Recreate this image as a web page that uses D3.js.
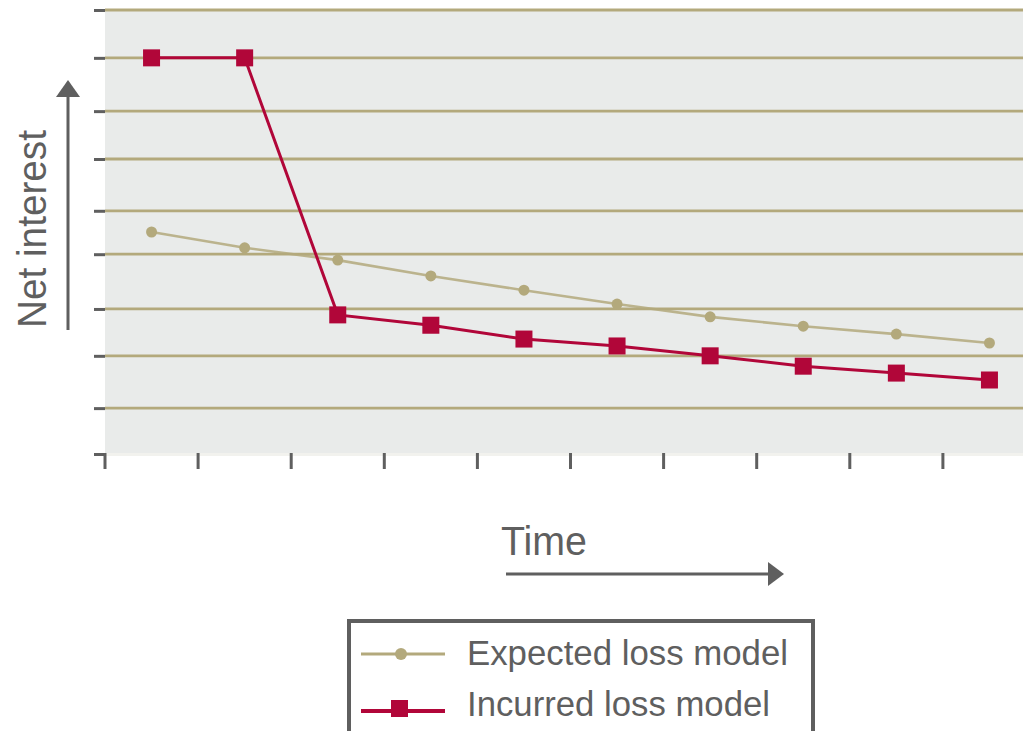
<!DOCTYPE html>
<html>
<head>
<meta charset="utf-8">
<script src="https://cdn.jsdelivr.net/npm/d3@7"></script>
<style>
  html, body { margin: 0; padding: 0; background: #ffffff; }
  svg { display: block; }
  text { font-family: "Liberation Sans", Arial, sans-serif; fill: #5f5f5f; }
</style>
</head>
<body>
<svg id="chart" width="1023" height="731"></svg>
<script>
// ---- data ----
const periods = ["1", "2", "3", "4", "5", "6", "7", "8", "9", "10"];
const expectedLoss = [4.50, 4.18, 3.93, 3.61, 3.32, 3.04, 2.78, 2.59, 2.43, 2.25];
const incurredLoss = [8.03, 8.03, 2.82, 2.61, 2.33, 2.19, 1.99, 1.78, 1.64, 1.50];
const gridValues = [0.93, 1.99, 2.94, 4.05, 4.93, 5.98, 6.95, 8.03, 9];
const yTickValues = [0, 0.93, 1.99, 2.94, 4.05, 4.93, 5.98, 6.95, 8.03, 9];
const seriesNames = ["Expected loss model", "Incurred loss model"];
const yTitle = "Net interest";
const xTitle = "Time";

// ---- layout ----
const svg = d3.select("#chart");
const plot = { left: 105, right: 1023, top: 10, bottom: 454 };
const colTan = "#b3a97c";
const colRed = "#b10639";
const colGrey = "#5f5f5f";

const x = d3.scaleBand().domain(periods).range([105, 1036]).padding(0);
const y = d3.scaleLinear().domain([0, 9]).range([plot.bottom, plot.top]);

// plot background
svg.append("rect")
  .attr("x", plot.left).attr("y", plot.bottom - 2)
  .attr("width", plot.right - plot.left).attr("height", 4)
  .attr("fill", "#f2f2ee");
svg.append("rect")
  .attr("x", plot.left).attr("y", plot.top)
  .attr("width", plot.right - plot.left).attr("height", plot.bottom - 1 - plot.top)
  .attr("fill", "#e9ebea");

// gridlines
svg.append("g").selectAll("line").data(gridValues).join("line")
  .attr("x1", plot.left).attr("x2", plot.right)
  .attr("y1", d => y(d)).attr("y2", d => y(d))
  .attr("stroke", colTan).attr("stroke-width", 2.8);

// left axis ticks
const yAxis = d3.axisLeft(y).tickValues(yTickValues).tickSize(11).tickFormat("");
const gy = svg.append("g").attr("transform", `translate(${plot.left},0)`).call(yAxis);
gy.select(".domain").remove();
gy.selectAll(".tick line").attr("stroke", colGrey).attr("stroke-width", 3);

// bottom axis ticks (at band starts)
svg.append("g").selectAll("line").data(periods).join("line")
  .attr("x1", d => x(d)).attr("x2", d => x(d))
  .attr("y1", plot.bottom - 1).attr("y2", plot.bottom + 15)
  .attr("stroke", colGrey).attr("stroke-width", 3);

// lines
const cx = d => x(d) + x.bandwidth() / 2;
const lineGen = vals => d3.line().x((d, i) => cx(periods[i])).y(d => y(d))(vals);

svg.append("path").attr("d", lineGen(expectedLoss))
  .attr("fill", "none").attr("stroke", colTan).attr("stroke-width", 2.6)
  .attr("stroke-opacity", 0.85);
svg.append("g").selectAll("circle").data(expectedLoss).join("circle")
  .attr("cx", (d, i) => cx(periods[i])).attr("cy", d => y(d))
  .attr("r", 5.5).attr("fill", colTan);

svg.append("path").attr("d", lineGen(incurredLoss))
  .attr("fill", "none").attr("stroke", colRed).attr("stroke-width", 3);
svg.append("g").selectAll("rect").data(incurredLoss).join("rect")
  .attr("x", (d, i) => cx(periods[i]) - 8.5).attr("y", d => y(d) - 8.5)
  .attr("width", 17).attr("height", 17).attr("fill", colRed);

// y title + arrow
svg.append("text")
  .attr("transform", "translate(46,229) rotate(-90)")
  .attr("text-anchor", "middle")
  .attr("font-size", 41)
  .attr("textLength", 198).attr("lengthAdjust", "spacingAndGlyphs")
  .text(yTitle);
svg.append("line").attr("x1", 68).attr("x2", 68).attr("y1", 330).attr("y2", 95)
  .attr("stroke", colGrey).attr("stroke-width", 3);
svg.append("path").attr("d", "M68,80 L80,97 L56,97 Z").attr("fill", colGrey);

// x title + arrow
svg.append("text")
  .attr("x", 501).attr("y", 555)
  .attr("font-size", 41)
  .attr("textLength", 86).attr("lengthAdjust", "spacingAndGlyphs")
  .text(xTitle);
svg.append("line").attr("x1", 506).attr("x2", 772).attr("y1", 574).attr("y2", 574)
  .attr("stroke", colGrey).attr("stroke-width", 3);
svg.append("path").attr("d", "M768,562 L784,574 L768,586 Z").attr("fill", colGrey);

// legend
svg.append("rect")
  .attr("x", 349).attr("y", 621).attr("width", 464).attr("height", 130)
  .attr("fill", "none").attr("stroke", colGrey).attr("stroke-width", 4);

const leg = svg.append("g");
// expected
leg.append("line").attr("x1", 361).attr("x2", 445).attr("y1", 654).attr("y2", 654)
  .attr("stroke", colTan).attr("stroke-width", 3);
leg.append("circle").attr("cx", 401).attr("cy", 654).attr("r", 6).attr("fill", colTan);
leg.append("text").attr("x", 467).attr("y", 665).attr("font-size", 35)
  .attr("textLength", 321).attr("lengthAdjust", "spacingAndGlyphs")
  .text(seriesNames[0]);
// incurred
leg.append("line").attr("x1", 361).attr("x2", 445).attr("y1", 711).attr("y2", 711)
  .attr("stroke", colRed).attr("stroke-width", 4);
leg.append("rect").attr("x", 391).attr("y", 700).attr("width", 17).attr("height", 17)
  .attr("fill", colRed);
leg.append("text").attr("x", 467).attr("y", 716).attr("font-size", 35)
  .attr("textLength", 303).attr("lengthAdjust", "spacingAndGlyphs")
  .text(seriesNames[1]);
</script>
</body>
</html>
